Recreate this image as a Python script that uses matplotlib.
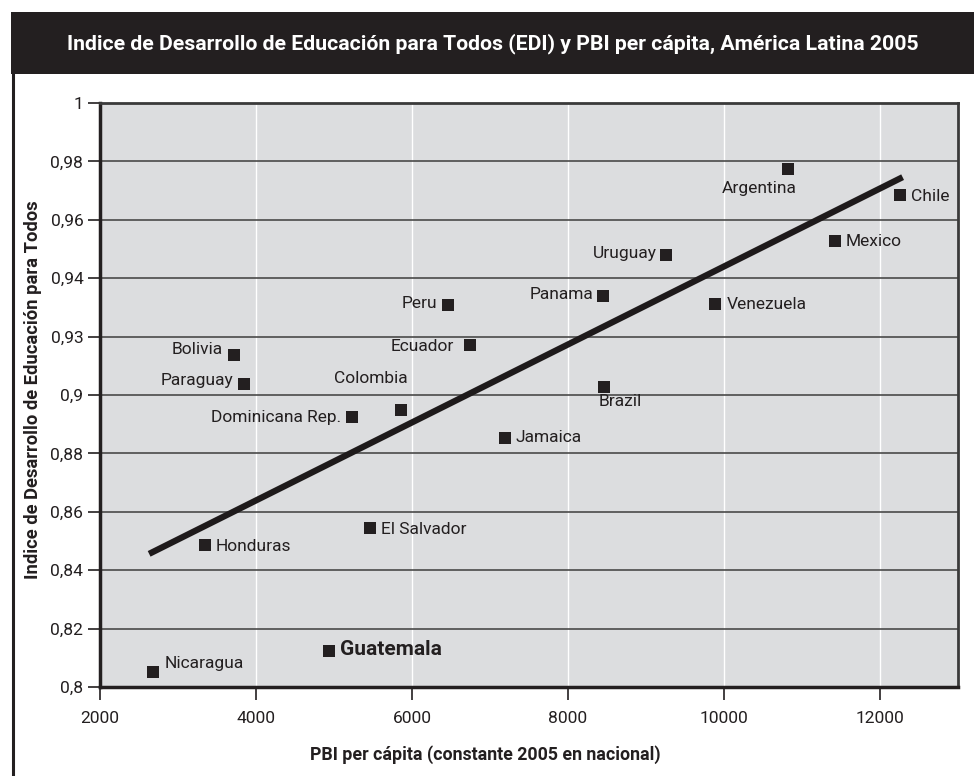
import matplotlib
matplotlib.use("Agg")
import matplotlib.pyplot as plt
from matplotlib.patches import Rectangle
from matplotlib.lines import Line2D

plt.rcParams['font.family'] = ['Roboto', 'DejaVu Sans']

countries = ["Argentina", "Chile", "Mexico", "Uruguay", "Panama", "Venezuela", "Peru",
             "Ecuador", "Bolivia", "Paraguay", "Brazil", "Colombia", "Dominicana Rep.",
             "Jamaica", "El Salvador", "Honduras", "Guatemala", "Nicaragua"]
gdp = [10820, 12260, 11420, 9260, 8450, 9890, 6460,
       6740, 3720, 3850, 8460, 5860, 5230,
       7190, 5460, 3340, 4940, 2680]
edi = [0.9774, 0.9684, 0.9527, 0.9479, 0.9338, 0.9310, 0.9307,
       0.9170, 0.9136, 0.9036, 0.9026, 0.8947, 0.8923,
       0.8854, 0.8545, 0.8487, 0.8123, 0.8051]
trend_x = [2630, 12290]
trend_y = [0.8456, 0.9746]

x_ticks = [2000, 4000, 6000, 8000, 10000, 12000]
y_ticks = [0.8, 0.82, 0.84, 0.86, 0.88, 0.9, 0.92, 0.94, 0.96, 0.98, 1.0]
y_tick_labels = ["0,8", "0,82", "0,84", "0,86", "0,88", "0,9", "0,93", "0,94", "0,96", "0,98", "1"]

title = "Indice de Desarrollo de Educación para Todos (EDI) y PBI per cápita, América Latina 2005"
xlabel = "PBI per cápita (constante 2005 en nacional)"
ylabel = "Indice de Desarrollo de Educación para Todos"

# label placement: (dx, dy in points, ha, va)
offsets = {
    "Argentina": (-21, -14, "center", "center"),
    "Chile": (8, -1, "left", "center"),
    "Mexico": (8, 0, "left", "center"),
    "Uruguay": (-7, 1, "right", "center"),
    "Panama": (-7, 1, "right", "center"),
    "Venezuela": (8, 0, "left", "center"),
    "Peru": (-8, 1, "right", "center"),
    "Ecuador": (-11, -1, "right", "center"),
    "Bolivia": (-8, 4, "right", "center"),
    "Paraguay": (-8, 3, "right", "center"),
    "Brazil": (-4, -10, "left", "center"),
    "Colombia": (-22, 23, "center", "center"),
    "Dominicana Rep.": (-8, 0, "right", "center"),
    "Jamaica": (8, 0, "left", "center"),
    "El Salvador": (8, -1, "left", "center"),
    "Honduras": (8, -1, "left", "center"),
    "Guatemala": (8, 1, "left", "center"),
    "Nicaragua": (8, 6, "left", "center"),
}

fig = plt.figure(figsize=(9.74, 7.76), dpi=100)
fig.patch.set_facecolor("white")

# title banner and outer frame
fig.add_artist(Rectangle((11/974, 1-74/776), 1-11/974, 62/776, transform=fig.transFigure,
                         facecolor="#231f20", edgecolor="none"))
fig.add_artist(Line2D([12.5/974, 12.5/974], [0, 1-74/776], transform=fig.transFigure,
                      color="#231f20", lw=2.2))
fig.text(493/974, 1-44/776, title, color="white", fontsize=15.3, fontweight="bold",
         ha="center", va="center")

ax = fig.add_axes([100/974, 1-687/776, 858/974, 584/776])
ax.set_facecolor("#dcdddf")
ax.set_xlim(2000, 13000)
ax.set_ylim(0.8, 1.0)

for xv in x_ticks[1:] + [13000]:
    ax.axvline(xv, color="white", lw=1.0, zorder=1)
for yv in y_ticks[1:-1]:
    ax.axhline(yv, color="#4a4a4a", lw=1.2, zorder=1)

ax.plot(trend_x, trend_y, color="#1e1a1b", lw=4.5, solid_capstyle="butt", zorder=3)
ax.scatter(gdp, edi, marker="s", s=75, color="#231f20", zorder=4, linewidths=0)

for c, xv, yv in zip(countries, gdp, edi):
    dx, dy, ha, va = offsets[c]
    bold = c == "Guatemala"
    ax.annotate(c, (xv, yv), xytext=(dx, dy), textcoords="offset points",
                ha=ha, va=va, fontsize=15 if bold else 12.5,
                fontweight="bold" if bold else "normal", color="#231f20", zorder=5)

ax.set_xticks(x_ticks)
ax.set_xticklabels([str(v) for v in x_ticks])
ax.set_yticks(y_ticks)
ax.set_yticklabels(y_tick_labels)
ax.tick_params(axis="both", direction="out", length=9, width=1.2, color="#231f20",
               labelsize=12.5, labelcolor="#231f20")
ax.tick_params(axis="x", pad=8)
ax.tick_params(axis="y", pad=3)

for side in ["left", "bottom"]:
    ax.spines[side].set_linewidth(2.5)
    ax.spines[side].set_color("#231f20")
for side in ["top", "right"]:
    ax.spines[side].set_linewidth(2.0)
    ax.spines[side].set_color("#3a3a3a")

fig.text(485/974, 1-755/776, xlabel, fontsize=12.8, fontweight="bold", ha="center",
         va="center", color="#231f20")
fig.text(33/974, 1-390/776, ylabel, fontsize=13.2, fontweight="bold", ha="center",
         va="center", rotation=90, color="#231f20")

fig.savefig("out.png", dpi=100)
